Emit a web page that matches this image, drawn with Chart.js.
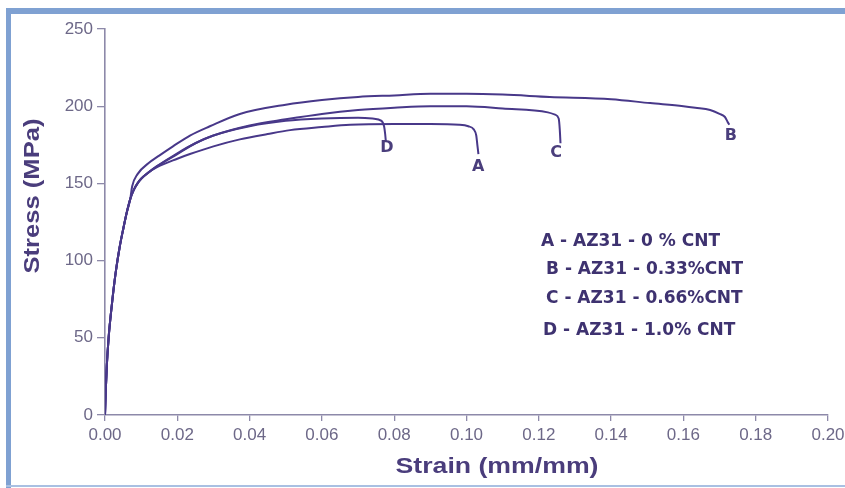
<!DOCTYPE html>
<html>
<head>
<meta charset="utf-8">
<script src="https://cdn.jsdelivr.net/npm/chart.js@4.4.1/dist/chart.umd.min.js"></script>
<style>
  html, body { margin: 0; padding: 0; background: #fff; }
  #wrap { position: relative; width: 845px; height: 488px; overflow: hidden; }
  #wrap canvas { position: absolute; left: 0; top: 0; }
  .frame-top { position: absolute; left: 6px; top: 8px; width: 839px; height: 6px; background: #7fa1d2; }
  .frame-left { position: absolute; left: 6px; top: 8px; width: 5px; height: 480px; background: #7fa1d2; }
  .frame-bottom { position: absolute; left: 6px; top: 485px; width: 839px; height: 2px; background: #a9c0e2; }
</style>
</head>
<body>
<div id="wrap">
  <canvas id="c" width="845" height="488"></canvas>
  <div class="frame-top"></div>
  <div class="frame-left"></div>
  <div class="frame-bottom"></div>
</div>
<script>
  // stress-strain curves (strain mm/mm, stress MPa)
  // the elastic rise is shared by all four specimens
  var elasticStrain = [0, 0.0002, 0.0005, 0.001, 0.0016, 0.0022, 0.003, 0.004, 0.005, 0.006, 0.007];
  var elasticStress = [0, 15, 32, 50, 65, 78, 93, 108, 120, 131, 140];

  var strainA = [0.008, 0.009, 0.01, 0.012, 0.0144, 0.02, 0.0235, 0.03, 0.0373, 0.045, 0.0512, 0.06, 0.0678, 0.08, 0.09, 0.098, 0.1005, 0.102, 0.1027, 0.103, 0.1033];
  var stressA = [146, 150, 153, 157, 160.5, 166, 169, 174, 178.5, 182, 184.5, 186.5, 188, 188.5, 188.5, 188, 187, 185, 181, 175, 169];

  var strainB = [0.0075, 0.009, 0.012, 0.015, 0.0188, 0.0235, 0.029, 0.0373, 0.05, 0.06, 0.07, 0.08, 0.09, 0.1, 0.11, 0.123, 0.14, 0.1508, 0.16, 0.1633, 0.1674, 0.17, 0.1715, 0.1722, 0.1727];
  var stressB = [148, 156, 163, 168, 174, 181, 187, 195, 201, 204, 206, 207, 208, 208, 207.5, 206, 204.5, 202, 200, 199, 197.5, 195, 193, 190, 188];

  var strainC = [0.008, 0.009, 0.01, 0.012, 0.0143, 0.02, 0.025, 0.03, 0.04, 0.05, 0.06, 0.07, 0.08, 0.09, 0.1, 0.11, 0.1225, 0.1245, 0.1255, 0.1258, 0.126];
  var stressC = [146, 150, 153, 157, 161, 169, 176, 181, 187.5, 191.5, 195, 197.5, 199, 200, 200, 198.5, 196, 194.5, 192, 185, 176];

  var strainD = [0.008, 0.009, 0.01, 0.012, 0.0143, 0.02, 0.025, 0.03, 0.04, 0.05, 0.06, 0.07, 0.074, 0.0765, 0.0772, 0.0775, 0.0777];
  var stressD = [146, 150, 153, 157, 161, 169.5, 176, 181, 187, 190.5, 192, 192.5, 192, 190.5, 187, 182, 177];

  // letters at the curve ends
  var curveLetters = ["A", "B", "C", "D"];
  var letterStrain = [0.1032, 0.1731, 0.1248, 0.0780];
  var letterStress = [161, 181, 170, 173];

  var legendLines = [
    "A - AZ31 - 0 % CNT",
    "B - AZ31 - 0.33%CNT",
    "C - AZ31 - 0.66%CNT",
    "D - AZ31 - 1.0% CNT"
  ];

  var xTicks = [0, 0.02, 0.04, 0.06, 0.08, 0.10, 0.12, 0.14, 0.16, 0.18, 0.20];
  var yTicks = [0, 50, 100, 150, 200, 250];

  function toPoints(xs, ys) {
    var xa = elasticStrain.concat(xs), ya = elasticStress.concat(ys);
    return xa.map(function (x, i) { return { x: x, y: ya[i] }; });
  }

  var curveColor = "#483889";
  var axisColor = "#8d89a9";
  var tickText = "#6d6888";
  var titleColor = "#4a3d7c";

  function curve(label, xs, ys) {
    return {
      label: label,
      data: toPoints(xs, ys),
      showLine: true,
      borderColor: curveColor,
      backgroundColor: curveColor,
      borderWidth: 2,
      pointRadius: 0,
      cubicInterpolationMode: "monotone"
    };
  }

  // draws text centred at (cx, cy), squeezed/stretched along its length
  function stretchedText(ctx, text, cx, cy, rot, font, len) {
    ctx.save();
    ctx.font = font;
    var w = ctx.measureText(text).width;
    ctx.translate(cx, cy);
    ctx.rotate(rot);
    ctx.scale(len / w, 1);
    ctx.textAlign = "center";
    ctx.textBaseline = "middle";
    ctx.fillText(text, 0, 0);
    ctx.restore();
  }

  var annotations = {
    id: "annotations",
    afterDatasetsDraw: function (chart) {
      var ctx = chart.ctx, xs = chart.scales.x, ys = chart.scales.y;
      ctx.save();
      ctx.fillStyle = titleColor;
      stretchedText(ctx, "Strain (mm/mm)", 497, 467, 0, "bold 22px 'Liberation Sans', Arial, sans-serif", 203);
      stretchedText(ctx, "Stress (MPa)", 33, 196, -Math.PI / 2, "bold 22px 'Liberation Sans', Arial, sans-serif", 155);

      ctx.font = "bold 16px 'DejaVu Sans', Verdana, sans-serif";
      ctx.fillStyle = "#4a3e7c";
      ctx.textAlign = "center";
      ctx.textBaseline = "middle";
      curveLetters.forEach(function (t, i) {
        ctx.fillText(t, xs.getPixelForValue(letterStrain[i]), ys.getPixelForValue(letterStress[i]));
      });

      ctx.fillStyle = "#3e3270";
      ctx.font = "bold 17px 'DejaVu Sans', Verdana, sans-serif";
      ctx.textAlign = "left";
      var lx = [541, 546, 546, 543], ly = [242, 270, 299, 331];
      legendLines.forEach(function (t, i) {
        ctx.fillText(t, lx[i], ly[i]);
      });
      ctx.restore();
    }
  };

  new Chart(document.getElementById("c").getContext("2d"), {
    type: "scatter",
    data: {
      datasets: [
        curve("A", strainA, stressA),
        curve("B", strainB, stressB),
        curve("C", strainC, stressC),
        curve("D", strainD, stressD)
      ]
    },
    options: {
      responsive: false,
      animation: false,
      layout: { padding: { top: 29, right: 17, left: 0, bottom: 0 } },
      plugins: { legend: { display: false }, tooltip: { enabled: false } },
      scales: {
        x: {
          type: "linear",
          min: 0,
          max: 0.2,
          afterBuildTicks: function (s) { s.ticks = xTicks.map(function (v) { return { value: v }; }); },
          // the last tick label runs off the edge, as in the original
          afterFit: function (s) { s.height = 73; s.paddingLeft = 0; s.paddingRight = 0; },
          ticks: {
            color: tickText,
            font: { family: "'Liberation Sans', Arial, sans-serif", size: 17 },
            padding: 4,
            maxRotation: 0,
            autoSkip: false,
            callback: function (v) { return Number(v).toFixed(2); }
          },
          grid: { drawOnChartArea: false, drawTicks: true, tickLength: 6, color: axisColor, lineWidth: 1.3 },
          border: { display: true, color: axisColor, width: 1.6 }
        },
        y: {
          min: 0,
          max: 250,
          afterBuildTicks: function (s) { s.ticks = yTicks.map(function (v) { return { value: v }; }); },
          afterFit: function (s) { s.width = 105; },
          ticks: {
            color: tickText,
            font: { family: "'Liberation Sans', Arial, sans-serif", size: 17 },
            padding: 4
          },
          grid: { drawOnChartArea: false, drawTicks: true, tickLength: 8, color: axisColor, lineWidth: 1.3 },
          border: { display: true, color: axisColor, width: 1.6 }
        }
      }
    },
    plugins: [annotations]
  });
</script>
</body>
</html>
